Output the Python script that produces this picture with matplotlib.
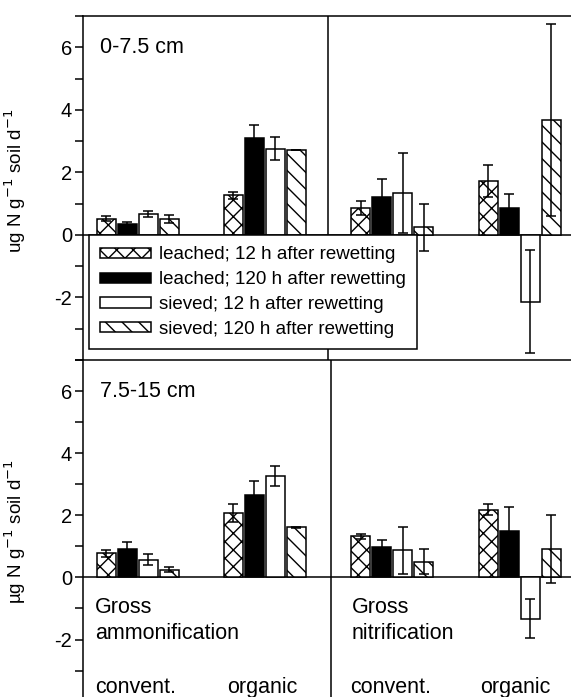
import matplotlib
matplotlib.use("Agg")
import matplotlib.pyplot as plt
from matplotlib.ticker import MultipleLocator
from matplotlib.patches import Patch
import numpy as np

plt.rcParams['font.family'] = ['Liberation Sans', 'DejaVu Sans']
plt.rcParams['axes.unicode_minus'] = False
plt.rcParams['hatch.linewidth'] = 1.0

# groups: ammonification conv / organic, nitrification conv / organic
series = ["leached; 12 h after rewetting", "leached; 120 h after rewetting",
          "sieved; 12 h after rewetting", "sieved; 120 h after rewetting"]

# 0-7.5 cm
top_l12 = [0.51, 1.27, 0.87, 1.72]
top_l12_err = [0.08, 0.11, 0.22, 0.51]
top_l120 = [0.35, 3.10, 1.22, 0.85]
top_l120_err = [0.05, 0.40, 0.58, 0.46]
top_s12 = [0.66, 2.76, 1.34, -2.13]
top_s12_err = [0.10, 0.37, 1.28, 1.65]
top_s120 = [0.50, 2.73, 0.24, 3.66]
top_s120_err = [0.13, 0.0, 0.76, 3.07]

# 7.5-15 cm
bot_l12 = [0.78, 2.07, 1.32, 2.18]
bot_l12_err = [0.11, 0.30, 0.09, 0.17]
bot_l120 = [0.93, 2.64, 0.99, 1.51]
bot_l120_err = [0.22, 0.48, 0.21, 0.77]
bot_s12 = [0.57, 3.27, 0.87, -1.33]
bot_s12_err = [0.17, 0.33, 0.76, 0.62]
bot_s120 = [0.25, 1.61, 0.50, 0.91]
bot_s120_err = [0.08, 0.02, 0.40, 1.09]

styles = [dict(color="white", hatch="xx"),
          dict(color="black", hatch=None),
          dict(color="white", hatch=None),
          dict(color="white", hatch="\\\\")]

fig = plt.figure(figsize=(5.71, 6.97), dpi=100)
ax_top = fig.add_axes([0.1454, 0.4835, 0.8546, 0.4935])
ax_bot = fig.add_axes([0.1454, 0.0, 0.8546, 0.4835])

groups = np.arange(4) * 127.4 + 54.5
offsets = [-31.5, -10.5, 10.5, 31.5]
width = 19


def draw(ax, vals, errs, ylim, divider):
    for k in range(4):
        st = styles[k]
        ax.bar(groups + offsets[k], vals[k], width, color=st["color"], hatch=st["hatch"],
               edgecolor="black", linewidth=1.1, zorder=3)
        ax.errorbar(groups + offsets[k], vals[k], yerr=errs[k], fmt="none", ecolor="black",
                    elinewidth=1.1, capsize=3.5, capthick=1.1, zorder=4)
    ax.axhline(0, color="black", linewidth=1.1, zorder=2)
    ax.axvline(divider, color="black", linewidth=1.1, zorder=2)
    ax.set_xlim(0, 488)
    ax.set_ylim(*ylim)
    ax.set_xticks([])
    ax.yaxis.set_major_locator(MultipleLocator(2))
    ax.yaxis.set_minor_locator(MultipleLocator(1))
    ax.tick_params(axis="y", which="both", direction="out", length=6, width=1.1, labelsize=14.5, pad=2)
    ax.set_yticks([6, 4, 2, 0, -2])
    for s in ["right", "bottom"]:
        ax.spines[s].set_visible(False)
    for s in ["left", "top"]:
        ax.spines[s].set_linewidth(1.1)


draw(ax_top, [top_l12, top_l120, top_s12, top_s120],
     [top_l12_err, top_l120_err, top_s12_err, top_s120_err], (-4.0, 7.0), 245)
draw(ax_bot, [bot_l12, bot_l120, bot_s12, bot_s120],
     [bot_l12_err, bot_l120_err, bot_s12_err, bot_s120_err], (-3.85, 7.0), 248)

ax_top.set_ylabel("ug N g$^{-1}$ soil d$^{-1}$", fontsize=13.5)
ax_bot.set_ylabel("\u00b5g N g$^{-1}$ soil d$^{-1}$", fontsize=13.5)
ax_top.yaxis.set_label_coords(-0.113, 0.52)
ax_bot.yaxis.set_label_coords(-0.113, 0.49)

fs = 15.5
ax_top.text(17, 6.0, "0-7.5 cm", fontsize=fs, va="center")
ax_bot.text(17, 6.0, "7.5-15 cm", fontsize=fs, va="center")

ax_bot.text(12, -0.97, "Gross", fontsize=fs, va="center")
ax_bot.text(12, -1.81, "ammonification", fontsize=fs, va="center")
ax_bot.text(269, -0.97, "Gross", fontsize=fs, va="center")
ax_bot.text(269, -1.81, "nitrification", fontsize=fs, va="center")
ax_bot.text(12, -3.55, "convent.", fontsize=fs, va="center")
ax_bot.text(144, -3.55, "organic", fontsize=fs, va="center")
ax_bot.text(267, -3.55, "convent.", fontsize=fs, va="center")
ax_bot.text(397, -3.55, "organic", fontsize=fs, va="center")

handles = [Patch(facecolor=st["color"], hatch=st["hatch"], edgecolor="black", linewidth=1.1)
           for st in styles]
leg = ax_top.legend(handles, series, loc="lower left", bbox_to_anchor=(0.012, 0.031),
                    borderaxespad=0, fontsize=13.5, frameon=True, fancybox=False,
                    edgecolor="black", framealpha=1, handlelength=2.7, handleheight=0.45,
                    handletextpad=0.45, labelspacing=0.42, borderpad=0.6)
leg.get_frame().set_linewidth(1.1)
leg.set_zorder(10)

fig.savefig("out.png", dpi=100)
